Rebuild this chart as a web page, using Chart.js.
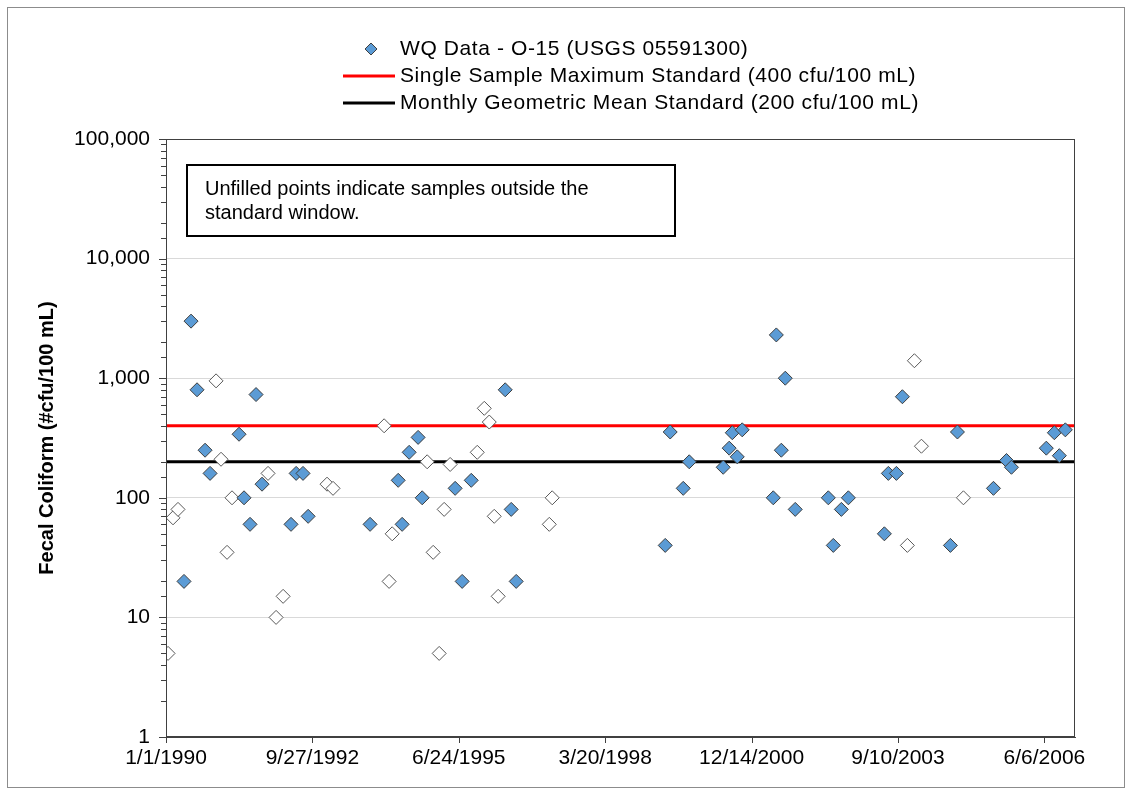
<!DOCTYPE html>
<html>
<head>
<meta charset="utf-8">
<script src="https://cdn.jsdelivr.net/npm/chart.js@4.4.1/dist/chart.umd.min.js"></script>
<style>
  html, body { margin: 0; padding: 0; background: #fff; }
  #wrap { position: relative; width: 1132px; height: 795px; }
</style>
</head>
<body>
<div id="wrap"><canvas id="fcChart"></canvas></div>
<script>
// ---- data ----
// samples inside the standard window (filled diamonds)
const filledDates = [
  "1990-05-04", "1990-06-21", "1990-08-01", "1990-09-25", "1990-10-29",
  "1991-05-15", "1991-06-18", "1991-07-29", "1991-09-08", "1991-10-19",
  "1992-05-04", "1992-06-08", "1992-07-25", "1992-08-29", "1993-10-26",
  "1994-05-06", "1994-06-02", "1994-07-20", "1994-09-19", "1994-10-17",
  "1995-05-30", "1995-07-17", "1995-09-17", "1996-05-06", "1996-06-16",
  "1996-07-20", "1999-05-04", "1999-06-07", "1999-09-04", "1999-10-15",
  "2000-06-03", "2000-07-14", "2000-08-04", "2000-09-07", "2000-10-11",
  "2001-05-11", "2001-06-01", "2001-07-05", "2001-08-01", "2001-10-08",
  "2002-05-22", "2002-06-25", "2002-08-19", "2002-10-06", "2003-06-09",
  "2003-07-06", "2003-08-30", "2003-10-10", "2004-09-02", "2004-10-20",
  "2005-06-23", "2005-09-20", "2005-10-24", "2006-06-19", "2006-08-13",
  "2006-09-16", "2006-10-27"
];
const filledValues = [
  20, 3000, 800, 250, 160,
  340, 100, 60, 730, 130,
  60, 160, 160, 70, 60,
  140, 60, 240, 320, 100,
  120, 20, 140, 800, 80,
  20, 40, 355, 120, 200,
  180, 260, 350, 220, 370,
  100, 2300, 250, 1000, 80,
  100, 40, 80, 100, 50,
  160, 160, 700, 40, 355,
  120, 205, 180, 260, 350,
  225, 370
];

// samples outside the standard window (unfilled diamonds)
const hollowDates = [
  "1990-01-15", "1990-02-18", "1990-03-24", "1990-12-09", "1991-01-12",
  "1991-02-22", "1991-03-28", "1991-11-29", "1992-01-23", "1992-03-11",
  "1993-01-05", "1993-02-15", "1994-01-30", "1994-03-05", "1994-03-26",
  "1994-11-20", "1994-12-31", "1995-02-10", "1995-03-16", "1995-04-26",
  "1995-10-28", "1995-12-15", "1996-01-18", "1996-02-21", "1996-03-19",
  "1997-03-03", "1997-03-23", "2003-11-13", "2003-12-31", "2004-02-17",
  "2004-11-30"
];
const hollowValues = [
  5, 68, 80, 950, 210,
  35, 100, 160, 10, 15,
  130, 120, 400, 20, 50,
  200, 35, 5, 80, 190,
  240, 560, 430, 70, 15,
  60, 100, 40, 1400, 270,
  100
];

// standards (cfu/100 mL)
const singleSampleMax = 400;
const monthlyGeoMean = 200;

// axis range and labels
const axisStart = "1990-01-01";
const axisEnd = "2007-01-01";
const xTickDates = ["1990-01-01", "1992-09-27", "1995-06-24", "1998-03-20", "2000-12-14", "2003-09-10", "2006-06-06"];
const xTickLabels = ["1/1/1990", "9/27/1992", "6/24/1995", "3/20/1998", "12/14/2000", "9/10/2003", "6/6/2006"];
const yTickLabels = ["1", "10", "100", "1,000", "10,000", "100,000"];

const legendLabels = [
  "WQ Data - O-15 (USGS 05591300)",
  "Single Sample Maximum Standard (400 cfu/100 mL)",
  "Monthly Geometric Mean Standard (200 cfu/100 mL)"
];
const noteLines = ["Unfilled points indicate samples outside the", "standard window."];

// ---- helpers ----
const DAY_MS = 86400000;
const t0 = Date.parse(axisStart);
const toDay = s => (Date.parse(s) - t0) / DAY_MS;
const xMax = toDay(axisEnd);
const xTickDays = xTickDates.map(toDay);
const toPoints = (dates, vals) => dates.map((d, i) => ({ x: toDay(d), y: vals[i] }));
const isDecade = v => {
  const l = Math.log10(v);
  return Math.abs(l - Math.round(l)) < 1e-9;
};

const FONT = "'Liberation Sans', Arial, sans-serif";
const BLUE = "#5b9bd5";

// frame, tick marks, legend and the note box are drawn by hand
const decor = {
  id: "decor",
  beforeDraw(chart) {
    const ctx = chart.ctx;
    ctx.save();
    ctx.fillStyle = "#fff";
    ctx.fillRect(0, 0, chart.width, chart.height);
    ctx.strokeStyle = "#8c8c8c";
    ctx.lineWidth = 1;
    ctx.strokeRect(7.5, 7.5, chart.width - 15, chart.height - 15);
    ctx.restore();
  },
  afterDraw(chart) {
    const ctx = chart.ctx;
    const a = chart.chartArea;
    const xs = chart.scales.x, ys = chart.scales.y;
    ctx.save();

    // plot box
    ctx.strokeStyle = "#404040";
    ctx.lineWidth = 1;
    ctx.strokeRect(a.left + 0.5, a.top + 0.5, a.right - a.left - 1, a.bottom - a.top - 1);

    // y tick marks (long on decades, short between)
    ctx.beginPath();
    ys.ticks.forEach(t => {
      const py = Math.round(ys.getPixelForValue(t.value)) + 0.5;
      const len = isDecade(t.value) ? 7 : 5;
      ctx.moveTo(a.left - len, py);
      ctx.lineTo(a.left, py);
    });
    // x tick marks
    xs.ticks.forEach(t => {
      const px = Math.round(xs.getPixelForValue(t.value)) + 0.5;
      ctx.moveTo(px, a.bottom);
      ctx.lineTo(px, a.bottom + 6);
    });
    ctx.stroke();

    // legend
    const ds = chart.data.datasets;
    const lx = 343, ly = 49, gap = 27;
    ctx.font = "21px " + FONT;
    ctx.letterSpacing = "0.6px";
    ctx.textBaseline = "middle";
    ctx.fillStyle = "#000";
    [0, 2, 3].forEach((di, row) => {
      const d = ds[di];
      const y = ly + row * gap;
      if (di === 0) {
        const cx = lx + 28, r = 6;
        ctx.beginPath();
        ctx.moveTo(cx - r, y); ctx.lineTo(cx, y - r); ctx.lineTo(cx + r, y); ctx.lineTo(cx, y + r);
        ctx.closePath();
        ctx.fillStyle = d.backgroundColor;
        ctx.fill();
        ctx.strokeStyle = d.borderColor;
        ctx.lineWidth = 1;
        ctx.stroke();
      } else {
        ctx.beginPath();
        ctx.moveTo(lx, y); ctx.lineTo(lx + 52, y);
        ctx.strokeStyle = d.borderColor;
        ctx.lineWidth = 3;
        ctx.stroke();
      }
      ctx.fillStyle = "#000";
      ctx.fillText(d.label, lx + 57, y);
    });
    ctx.letterSpacing = "0px";

    // note box
    const bx = a.left + 21, by = a.top + 26, bw = 488, bh = 71;
    ctx.fillStyle = "#fff";
    ctx.fillRect(bx, by, bw, bh);
    ctx.strokeStyle = "#000";
    ctx.lineWidth = 2;
    ctx.strokeRect(bx, by, bw, bh);
    ctx.fillStyle = "#000";
    ctx.font = "20px " + FONT;
    noteLines.forEach((t, i) => ctx.fillText(t, bx + 18, by + 24 + i * 24));
    ctx.restore();
  }
};

new Chart(document.getElementById("fcChart"), {
  type: "scatter",
  data: {
    datasets: [
      {
        label: legendLabels[0],
        data: toPoints(filledDates, filledValues),
        pointStyle: "rectRot",
        pointRadius: 7,
        backgroundColor: BLUE,
        borderColor: "#3f3f3f",
        borderWidth: 1,
        order: 1
      },
      {
        label: "outside window",
        data: toPoints(hollowDates, hollowValues),
        pointStyle: "rectRot",
        pointRadius: 7,
        backgroundColor: "#ffffff",
        borderColor: "#595959",
        borderWidth: 1,
        order: 2
      },
      {
        label: legendLabels[1],
        data: [{ x: 0, y: singleSampleMax }, { x: xMax, y: singleSampleMax }],
        showLine: true,
        borderColor: "#ff0000",
        borderWidth: 3,
        pointRadius: 0,
        order: 3
      },
      {
        label: legendLabels[2],
        data: [{ x: 0, y: monthlyGeoMean }, { x: xMax, y: monthlyGeoMean }],
        showLine: true,
        borderColor: "#000000",
        borderWidth: 3,
        pointRadius: 0,
        order: 4
      }
    ]
  },
  options: {
    responsive: true,
    maintainAspectRatio: false,
    animation: false,
    devicePixelRatio: 1,
    events: [],
    layout: { padding: { left: 35, top: 139, right: 57, bottom: 10 } },
    plugins: {
      legend: { display: false },
      tooltip: { enabled: false }
    },
    scales: {
      x: {
        type: "linear",
        min: 0,
        max: xMax,
        afterFit: s => { s.height = 48; },
        // chart.js would spread ticks evenly up to max, so pin them to the 1000-day dates
        afterBuildTicks: s => { s.ticks = xTickDays.map(v => ({ value: v })); },
        grid: { display: false, drawTicks: false },
        border: { color: "#404040", width: 1 },
        ticks: {
          autoSkip: false,
          maxRotation: 0,
          padding: 9,
          color: "#000",
          font: { family: FONT, size: 21 },
          callback: v => xTickLabels[xTickDays.indexOf(v)] || ""
        }
      },
      y: {
        type: "logarithmic",
        min: 1,
        max: 100000,
        afterFit: s => { s.width = 131; },
        grid: {
          drawTicks: false,
          color: c => (c.tick && isDecade(c.tick.value)) ? "#d9d9d9" : "rgba(0,0,0,0)"
        },
        border: { color: "#404040", width: 1 },
        ticks: {
          autoSkip: false,
          padding: 16,
          color: "#000",
          font: { family: FONT, size: 21 },
          callback: v => isDecade(v) ? yTickLabels[Math.round(Math.log10(v))] : ""
        },
        title: {
          display: true,
          text: "Fecal Coliform (#cfu/100 mL)",
          color: "#000",
          font: { family: FONT, size: 20, weight: "bold" },
          padding: { top: 0, bottom: 0 }
        }
      }
    }
  },
  plugins: [decor]
});
</script>
</body>
</html>
